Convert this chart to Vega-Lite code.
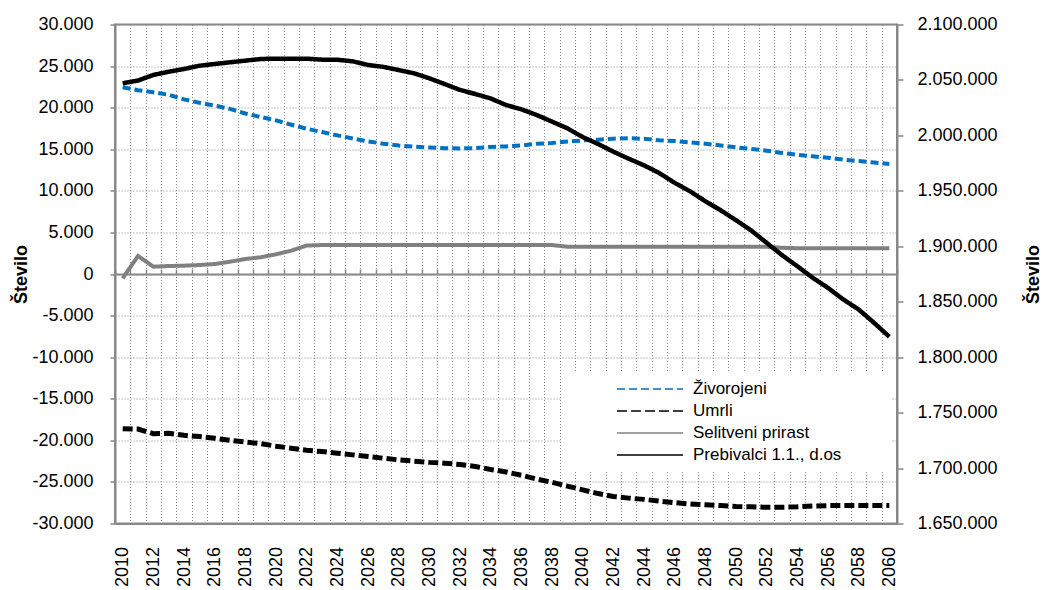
{
  "$schema": "https://vega.github.io/schema/vega-lite/v6.json",
  "width": 782,
  "height": 499,
  "autosize": {"type": "none"},
  "padding": {"left": 115, "top": 24.5, "right": 146, "bottom": 66.5},
  "background": "white",
  "view": {"stroke": "#888888", "strokeWidth": 2},
  "config": {
    "locale": {"number": {"decimal": ",", "thousands": ".", "grouping": [3], "currency": ["", " €"], "minus": "-"}},
    "font": "Liberation Sans",
    "axis": {"labelFont": "Liberation Sans", "titleFont": "Liberation Sans", "labelColor": "#000000", "titleColor": "#000000"}
  },
  "data": {"values": [
    {"year":2010,"series":"Živorojeni","value":22450},{"year":2011,"series":"Živorojeni","value":22100},{"year":2012,"series":"Živorojeni","value":21850},{"year":2013,"series":"Živorojeni","value":21550},{"year":2014,"series":"Živorojeni","value":21000},{"year":2015,"series":"Živorojeni","value":20600},{"year":2016,"series":"Živorojeni","value":20250},{"year":2017,"series":"Živorojeni","value":19850},{"year":2018,"series":"Živorojeni","value":19300},{"year":2019,"series":"Živorojeni","value":18880},{"year":2020,"series":"Živorojeni","value":18470},{"year":2021,"series":"Živorojeni","value":17950},{"year":2022,"series":"Živorojeni","value":17470},{"year":2023,"series":"Živorojeni","value":17070},{"year":2024,"series":"Živorojeni","value":16670},{"year":2025,"series":"Živorojeni","value":16300},{"year":2026,"series":"Živorojeni","value":15950},{"year":2027,"series":"Živorojeni","value":15670},{"year":2028,"series":"Živorojeni","value":15450},{"year":2029,"series":"Živorojeni","value":15300},{"year":2030,"series":"Živorojeni","value":15220},{"year":2031,"series":"Živorojeni","value":15120},{"year":2032,"series":"Živorojeni","value":15100},{"year":2033,"series":"Živorojeni","value":15140},{"year":2034,"series":"Živorojeni","value":15280},{"year":2035,"series":"Živorojeni","value":15340},{"year":2036,"series":"Živorojeni","value":15460},{"year":2037,"series":"Živorojeni","value":15650},{"year":2038,"series":"Živorojeni","value":15750},{"year":2039,"series":"Živorojeni","value":15930},{"year":2040,"series":"Živorojeni","value":16060},{"year":2041,"series":"Živorojeni","value":16150},{"year":2042,"series":"Živorojeni","value":16270},{"year":2043,"series":"Živorojeni","value":16330},{"year":2044,"series":"Živorojeni","value":16250},{"year":2045,"series":"Živorojeni","value":16080},{"year":2046,"series":"Živorojeni","value":15990},{"year":2047,"series":"Živorojeni","value":15830},{"year":2048,"series":"Živorojeni","value":15670},{"year":2049,"series":"Živorojeni","value":15460},{"year":2050,"series":"Živorojeni","value":15230},{"year":2051,"series":"Živorojeni","value":15030},{"year":2052,"series":"Živorojeni","value":14830},{"year":2053,"series":"Živorojeni","value":14550},{"year":2054,"series":"Živorojeni","value":14340},{"year":2055,"series":"Živorojeni","value":14150},{"year":2056,"series":"Živorojeni","value":13980},{"year":2057,"series":"Živorojeni","value":13750},{"year":2058,"series":"Živorojeni","value":13580},{"year":2059,"series":"Živorojeni","value":13410},{"year":2060,"series":"Živorojeni","value":13220},
    {"year":2010,"series":"Umrli","value":-18600},{"year":2011,"series":"Umrli","value":-18650},{"year":2012,"series":"Umrli","value":-19200},{"year":2013,"series":"Umrli","value":-19150},{"year":2014,"series":"Umrli","value":-19400},{"year":2015,"series":"Umrli","value":-19550},{"year":2016,"series":"Umrli","value":-19750},{"year":2017,"series":"Umrli","value":-20000},{"year":2018,"series":"Umrli","value":-20200},{"year":2019,"series":"Umrli","value":-20400},{"year":2020,"series":"Umrli","value":-20700},{"year":2021,"series":"Umrli","value":-20950},{"year":2022,"series":"Umrli","value":-21200},{"year":2023,"series":"Umrli","value":-21350},{"year":2024,"series":"Umrli","value":-21550},{"year":2025,"series":"Umrli","value":-21750},{"year":2026,"series":"Umrli","value":-21950},{"year":2027,"series":"Umrli","value":-22150},{"year":2028,"series":"Umrli","value":-22350},{"year":2029,"series":"Umrli","value":-22500},{"year":2030,"series":"Umrli","value":-22650},{"year":2031,"series":"Umrli","value":-22750},{"year":2032,"series":"Umrli","value":-22900},{"year":2033,"series":"Umrli","value":-23150},{"year":2034,"series":"Umrli","value":-23500},{"year":2035,"series":"Umrli","value":-23800},{"year":2036,"series":"Umrli","value":-24200},{"year":2037,"series":"Umrli","value":-24650},{"year":2038,"series":"Umrli","value":-25050},{"year":2039,"series":"Umrli","value":-25500},{"year":2040,"series":"Umrli","value":-25950},{"year":2041,"series":"Umrli","value":-26400},{"year":2042,"series":"Umrli","value":-26750},{"year":2043,"series":"Umrli","value":-26950},{"year":2044,"series":"Umrli","value":-27100},{"year":2045,"series":"Umrli","value":-27300},{"year":2046,"series":"Umrli","value":-27500},{"year":2047,"series":"Umrli","value":-27650},{"year":2048,"series":"Umrli","value":-27750},{"year":2049,"series":"Umrli","value":-27850},{"year":2050,"series":"Umrli","value":-27950},{"year":2051,"series":"Umrli","value":-28000},{"year":2052,"series":"Umrli","value":-28050},{"year":2053,"series":"Umrli","value":-28050},{"year":2054,"series":"Umrli","value":-28000},{"year":2055,"series":"Umrli","value":-27900},{"year":2056,"series":"Umrli","value":-27850},{"year":2057,"series":"Umrli","value":-27850},{"year":2058,"series":"Umrli","value":-27850},{"year":2059,"series":"Umrli","value":-27850},{"year":2060,"series":"Umrli","value":-27850},
    {"year":2010,"series":"Selitveni prirast","value":-520},{"year":2011,"series":"Selitveni prirast","value":2170},{"year":2012,"series":"Selitveni prirast","value":880},{"year":2013,"series":"Selitveni prirast","value":960},{"year":2014,"series":"Selitveni prirast","value":1000},{"year":2015,"series":"Selitveni prirast","value":1080},{"year":2016,"series":"Selitveni prirast","value":1200},{"year":2017,"series":"Selitveni prirast","value":1480},{"year":2018,"series":"Selitveni prirast","value":1800},{"year":2019,"series":"Selitveni prirast","value":2010},{"year":2020,"series":"Selitveni prirast","value":2370},{"year":2021,"series":"Selitveni prirast","value":2810},{"year":2022,"series":"Selitveni prirast","value":3420},{"year":2023,"series":"Selitveni prirast","value":3480},{"year":2024,"series":"Selitveni prirast","value":3480},{"year":2025,"series":"Selitveni prirast","value":3480},{"year":2026,"series":"Selitveni prirast","value":3480},{"year":2027,"series":"Selitveni prirast","value":3480},{"year":2028,"series":"Selitveni prirast","value":3480},{"year":2029,"series":"Selitveni prirast","value":3480},{"year":2030,"series":"Selitveni prirast","value":3480},{"year":2031,"series":"Selitveni prirast","value":3480},{"year":2032,"series":"Selitveni prirast","value":3480},{"year":2033,"series":"Selitveni prirast","value":3480},{"year":2034,"series":"Selitveni prirast","value":3480},{"year":2035,"series":"Selitveni prirast","value":3480},{"year":2036,"series":"Selitveni prirast","value":3480},{"year":2037,"series":"Selitveni prirast","value":3480},{"year":2038,"series":"Selitveni prirast","value":3480},{"year":2039,"series":"Selitveni prirast","value":3280},{"year":2040,"series":"Selitveni prirast","value":3280},{"year":2041,"series":"Selitveni prirast","value":3280},{"year":2042,"series":"Selitveni prirast","value":3280},{"year":2043,"series":"Selitveni prirast","value":3280},{"year":2044,"series":"Selitveni prirast","value":3280},{"year":2045,"series":"Selitveni prirast","value":3280},{"year":2046,"series":"Selitveni prirast","value":3280},{"year":2047,"series":"Selitveni prirast","value":3280},{"year":2048,"series":"Selitveni prirast","value":3280},{"year":2049,"series":"Selitveni prirast","value":3280},{"year":2050,"series":"Selitveni prirast","value":3280},{"year":2051,"series":"Selitveni prirast","value":3280},{"year":2052,"series":"Selitveni prirast","value":3280},{"year":2053,"series":"Selitveni prirast","value":3150},{"year":2054,"series":"Selitveni prirast","value":3100},{"year":2055,"series":"Selitveni prirast","value":3100},{"year":2056,"series":"Selitveni prirast","value":3100},{"year":2057,"series":"Selitveni prirast","value":3100},{"year":2058,"series":"Selitveni prirast","value":3100},{"year":2059,"series":"Selitveni prirast","value":3100},{"year":2060,"series":"Selitveni prirast","value":3100},
    {"year":2010,"series":"Prebivalci 1.1., d.os","value":2046970},{"year":2011,"series":"Prebivalci 1.1., d.os","value":2049500},{"year":2012,"series":"Prebivalci 1.1., d.os","value":2054500},{"year":2013,"series":"Prebivalci 1.1., d.os","value":2057400},{"year":2014,"series":"Prebivalci 1.1., d.os","value":2059900},{"year":2015,"series":"Prebivalci 1.1., d.os","value":2062800},{"year":2016,"series":"Prebivalci 1.1., d.os","value":2064400},{"year":2017,"series":"Prebivalci 1.1., d.os","value":2065900},{"year":2018,"series":"Prebivalci 1.1., d.os","value":2067400},{"year":2019,"series":"Prebivalci 1.1., d.os","value":2068900},{"year":2020,"series":"Prebivalci 1.1., d.os","value":2069200},{"year":2021,"series":"Prebivalci 1.1., d.os","value":2069200},{"year":2022,"series":"Prebivalci 1.1., d.os","value":2069200},{"year":2023,"series":"Prebivalci 1.1., d.os","value":2068300},{"year":2024,"series":"Prebivalci 1.1., d.os","value":2068200},{"year":2025,"series":"Prebivalci 1.1., d.os","value":2066800},{"year":2026,"series":"Prebivalci 1.1., d.os","value":2063500},{"year":2027,"series":"Prebivalci 1.1., d.os","value":2061800},{"year":2028,"series":"Prebivalci 1.1., d.os","value":2058900},{"year":2029,"series":"Prebivalci 1.1., d.os","value":2056000},{"year":2030,"series":"Prebivalci 1.1., d.os","value":2051500},{"year":2031,"series":"Prebivalci 1.1., d.os","value":2046300},{"year":2032,"series":"Prebivalci 1.1., d.os","value":2041000},{"year":2033,"series":"Prebivalci 1.1., d.os","value":2037300},{"year":2034,"series":"Prebivalci 1.1., d.os","value":2033300},{"year":2035,"series":"Prebivalci 1.1., d.os","value":2027400},{"year":2036,"series":"Prebivalci 1.1., d.os","value":2023500},{"year":2037,"series":"Prebivalci 1.1., d.os","value":2018400},{"year":2038,"series":"Prebivalci 1.1., d.os","value":2012400},{"year":2039,"series":"Prebivalci 1.1., d.os","value":2006400},{"year":2040,"series":"Prebivalci 1.1., d.os","value":1998500},{"year":2041,"series":"Prebivalci 1.1., d.os","value":1992300},{"year":2042,"series":"Prebivalci 1.1., d.os","value":1985300},{"year":2043,"series":"Prebivalci 1.1., d.os","value":1979000},{"year":2044,"series":"Prebivalci 1.1., d.os","value":1973000},{"year":2045,"series":"Prebivalci 1.1., d.os","value":1966000},{"year":2046,"series":"Prebivalci 1.1., d.os","value":1957200},{"year":2047,"series":"Prebivalci 1.1., d.os","value":1949600},{"year":2048,"series":"Prebivalci 1.1., d.os","value":1940600},{"year":2049,"series":"Prebivalci 1.1., d.os","value":1932500},{"year":2050,"series":"Prebivalci 1.1., d.os","value":1923500},{"year":2051,"series":"Prebivalci 1.1., d.os","value":1914200},{"year":2052,"series":"Prebivalci 1.1., d.os","value":1903100},{"year":2053,"series":"Prebivalci 1.1., d.os","value":1892000},{"year":2054,"series":"Prebivalci 1.1., d.os","value":1882000},{"year":2055,"series":"Prebivalci 1.1., d.os","value":1871600},{"year":2056,"series":"Prebivalci 1.1., d.os","value":1862500},{"year":2057,"series":"Prebivalci 1.1., d.os","value":1852000},{"year":2058,"series":"Prebivalci 1.1., d.os","value":1843000},{"year":2059,"series":"Prebivalci 1.1., d.os","value":1831000},{"year":2060,"series":"Prebivalci 1.1., d.os","value":1818400}
  ]},
  "layer": [
    {
      "transform": [{"filter": "datum.series === 'Živorojeni' || datum.series === 'Selitveni prirast'"}],
      "mark": {"type": "line", "strokeWidth": 4},
      "encoding": {
        "x": {"field": "year", "type": "quantitative", "scale": {"domain": [2009.5, 2060.5], "nice": false, "zero": false},
          "axis": {"orient": "bottom", "values": [2009.5,2010.5,2011.5,2012.5,2013.5,2014.5,2015.5,2016.5,2017.5,2018.5,2019.5,2020.5,2021.5,2022.5,2023.5,2024.5,2025.5,2026.5,2027.5,2028.5,2029.5,2030.5,2031.5,2032.5,2033.5,2034.5,2035.5,2036.5,2037.5,2038.5,2039.5,2040.5,2041.5,2042.5,2043.5,2044.5,2045.5,2046.5,2047.5,2048.5,2049.5,2050.5,2051.5,2052.5,2053.5,2054.5,2055.5,2056.5,2057.5,2058.5,2059.5,2060.5],
            "grid": true, "gridDash": [1, 2], "gridColor": "#8c8c8c", "gridWidth": 1, "labels": false, "ticks": false, "domain": false, "title": null}},
        "y": {"field": "value", "type": "quantitative", "scale": {"domain": [-30000, 30000], "nice": false, "zero": false},
          "axis": {"orient": "left", "values": [-30000,-25000,-20000,-15000,-10000,-5000,0,5000,10000,15000,20000,25000,30000], "format": ",.0f",
            "grid": true, "gridDash": [1, 2], "gridColor": "#8c8c8c", "gridWidth": 1, "domain": true, "domainColor": "#888888", "domainWidth": 2,
            "ticks": true, "tickSize": 5, "tickColor": "#888888", "tickWidth": 1.5,
            "labelFontSize": 18, "labelPadding": 17,
            "title": "Število", "titleFontSize": 18, "titleFontWeight": "bold", "titleX": -93.3, "titleY": 249.5, "titleAngle": -90, "titleBaseline": "middle", "titleAlign": "center"}},
        "color": {"field": "series", "type": "nominal",
          "scale": {"domain": ["Živorojeni", "Umrli", "Selitveni prirast", "Prebivalci 1.1., d.os"], "range": ["#0070C0", "#000000", "#808080", "#000000"]},
          "legend": {"title": null, "orient": "none", "legendX": 446, "legendY": 347.5, "padding": 8, "fillColor": "white",
            "labelFont": "Liberation Sans", "labelFontSize": 17, "labelColor": "#000000", "labelLimit": 400,
            "symbolType": "M-4.125,0H4.125M28.75,0", "symbolSize": 256, "symbolOffset": 72, "labelOffset": 34, "rowPadding": 5,
            "symbolStrokeWidth": 1.5, "symbolFillColor": "transparent",
            "encode": {"symbols": {"update": {"strokeWidth": {"value": 1.5}, "fill": {"value": "transparent"}, "strokeDash": {"signal": "datum.value === 'Živorojeni' || datum.value === 'Umrli' ? [4, 2] : [1, 0]"}}}}}},
        "strokeDash": {"field": "series", "type": "nominal",
          "scale": {"domain": ["Živorojeni", "Umrli", "Selitveni prirast", "Prebivalci 1.1., d.os"], "range": [[8, 4], [10, 4], [1, 0], [1, 0]]},
          "legend": {"title": null, "orient": "none", "legendX": 446, "legendY": 347.5, "padding": 8, "fillColor": "white",
            "labelFont": "Liberation Sans", "labelFontSize": 17, "labelColor": "#000000", "labelLimit": 400,
            "symbolType": "M-4.125,0H4.125M28.75,0", "symbolSize": 256, "symbolOffset": 72, "labelOffset": 34, "rowPadding": 5,
            "symbolStrokeWidth": 1.5, "symbolFillColor": "transparent"}}
      }
    },
    {
      "transform": [{"filter": "datum.series === 'Umrli'"}],
      "mark": {"type": "line", "strokeWidth": 5},
      "encoding": {
        "x": {"field": "year", "type": "quantitative", "scale": {"domain": [2009.5, 2060.5], "nice": false, "zero": false},
          "axis": {"orient": "top", "offset": -249.5, "values": [2009.5,2010.5,2011.5,2012.5,2013.5,2014.5,2015.5,2016.5,2017.5,2018.5,2019.5,2020.5,2021.5,2022.5,2023.5,2024.5,2025.5,2026.5,2027.5,2028.5,2029.5,2030.5,2031.5,2032.5,2033.5,2034.5,2035.5,2036.5,2037.5,2038.5,2039.5,2040.5,2041.5,2042.5,2043.5,2044.5,2045.5,2046.5,2047.5,2048.5,2049.5,2050.5,2051.5,2052.5,2053.5,2054.5,2055.5,2056.5,2057.5,2058.5,2059.5,2060.5],
            "grid": false, "labels": false, "ticks": true, "tickSize": 5, "tickColor": "#888888", "tickWidth": 1.5,
            "domain": true, "domainColor": "#888888", "domainWidth": 2, "title": null}},
        "y": {"field": "value", "type": "quantitative", "scale": {"domain": [-30000, 30000], "nice": false, "zero": false}, "axis": null},
        "color": {"field": "series", "type": "nominal"},
        "strokeDash": {"field": "series", "type": "nominal"}
      }
    },
    {
      "transform": [{"filter": "datum.series === 'Prebivalci 1.1., d.os'"}],
      "mark": {"type": "line", "strokeWidth": 4.5},
      "encoding": {
        "x": {"field": "year", "type": "quantitative", "scale": {"domain": [2009.5, 2060.5], "nice": false, "zero": false},
          "axis": {"orient": "bottom", "values": [2010,2012,2014,2016,2018,2020,2022,2024,2026,2028,2030,2032,2034,2036,2038,2040,2042,2044,2046,2048,2050,2052,2054,2056,2058,2060],
            "format": "d", "labelAngle": -90, "labelFontSize": 18, "labelPadding": 23, "ticks": false, "tickSize": 0, "domain": true, "domainColor": "#888888", "domainWidth": 2, "grid": false, "title": null, "labelOverlap": false}},
        "y": {"field": "value", "type": "quantitative", "scale": {"domain": [1650000, 2100000], "nice": false, "zero": false},
          "axis": {"orient": "right", "values": [1650000,1700000,1750000,1800000,1850000,1900000,1950000,2000000,2050000,2100000], "format": ",.0f",
            "grid": false, "domain": true, "domainColor": "#888888", "domainWidth": 2, "ticks": true, "tickSize": 6, "tickColor": "#888888", "tickWidth": 1.5,
            "labelFontSize": 18, "labelPadding": 14,
            "title": "Število", "titleFontSize": 18, "titleFontWeight": "bold", "titleX": 136, "titleY": 249.5, "titleAngle": -90, "titleBaseline": "middle", "titleAlign": "center"}},
        "color": {"field": "series", "type": "nominal"},
        "strokeDash": {"field": "series", "type": "nominal"}
      }
    }
  ],
  "resolve": {"scale": {"y": "independent"}, "axis": {"x": "independent", "y": "independent"}}
}
